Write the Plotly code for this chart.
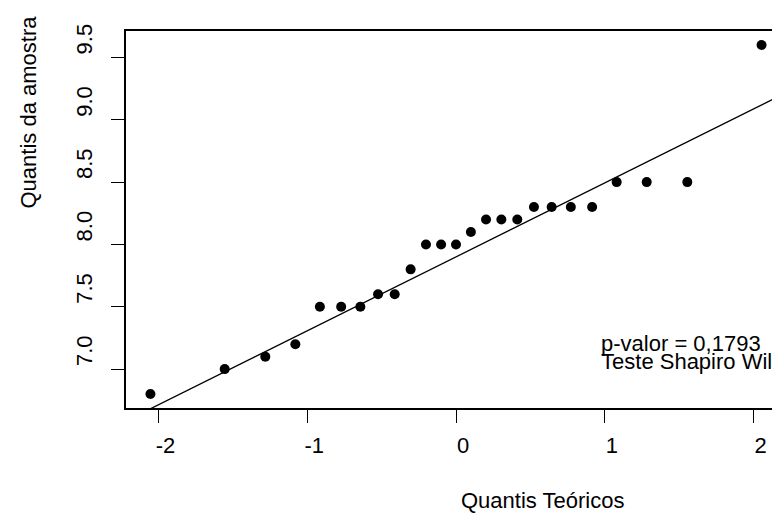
import numpy as np
import plotly.graph_objects as go

# Theoretical normal quantiles (x) and sorted sample values (y)
theoretical = [-2.054, -1.555, -1.282, -1.080, -0.915, -0.772, -0.643, -0.524, -0.412,
               -0.305, -0.202, -0.100, 0.000, 0.100, 0.202, 0.305, 0.412, 0.524,
               0.643, 0.772, 0.915, 1.080, 1.282, 1.555, 2.054]
sample = [6.8, 7.0, 7.1, 7.2, 7.5, 7.5, 7.5, 7.6, 7.6, 7.8, 8.0, 8.0, 8.0, 8.1,
          8.2, 8.2, 8.2, 8.3, 8.3, 8.3, 8.3, 8.5, 8.5, 8.5, 9.6]
x_ticks = [-2, -1, 0, 1, 2]
x_tick_labels = ["-2", "-1", "0", "1", "2"]
y_ticks = [7.0, 7.5, 8.0, 8.5, 9.0, 9.5]
y_tick_labels = ["7.0", "7.5", "8.0", "8.5", "9.0", "9.5"]
note_lines = ["p-valor = 0,1793", "Teste Shapiro Wilk"]
note_x = 0.975
note_y = [7.19, 7.045]
x_title = "Quantis Teóricos"
y_title = "Quantis da amostra"

FONT = "Arial, Liberation Sans, sans-serif"
FS = 22

x = np.array(theoretical)
y = np.array(sample)

# R-style qqline through the 1st and 3rd quartiles
q1, q3 = np.percentile(y, [25, 75])
z1, z3 = -0.6744898, 0.6744898
slope = (q3 - q1) / (z3 - z1)
intercept = q1 - slope * z1

def pad(lo, hi, f=0.04):
    d = (hi - lo) * f
    return [lo - d, hi + d]

xr = pad(x.min(), x.max())
yr = pad(y.min(), y.max())

fig = go.Figure()
lx = np.array([xr[0] - 1, xr[1] + 1])
fig.add_trace(go.Scatter(x=lx, y=intercept + slope * lx, mode="lines",
                         line=dict(color="black", width=1.3), hoverinfo="skip",
                         showlegend=False))
fig.add_trace(go.Scatter(x=x, y=y, mode="markers",
                         marker=dict(color="black", size=10), showlegend=False))
fig.add_trace(go.Scatter(x=[note_x, note_x], y=note_y, mode="text", text=note_lines,
                         textposition="middle right", cliponaxis=True,
                         textfont=dict(family=FONT, size=FS, color="black"),
                         showlegend=False, hoverinfo="skip"))

axis_common = dict(showgrid=False, zeroline=False, showline=True, mirror=True,
                   automargin=False,
                   linecolor="black", linewidth=1.5, ticks="outside", ticklen=13,
                   tickwidth=1.2, tickcolor="black",
                   tickfont=dict(family=FONT, size=FS, color="black"))
fig.update_xaxes(range=xr, tickmode="array", tickvals=x_ticks, ticktext=x_tick_labels,
                 ticklabelshift=7, ticklabelstandoff=4, **axis_common)
fig.update_yaxes(range=yr, tickmode="array", tickvals=y_ticks, ticktext=y_tick_labels,
                 tickangle=-90, ticklabelshift=-15, ticklabelstandoff=10, **axis_common)

fig.add_annotation(text=x_title, xref="paper", yref="paper", x=(451 - 118) / 660,
                   y=(400 - 493) / 377, xanchor="left", yanchor="middle",
                   showarrow=False, font=dict(family=FONT, size=FS, color="black"))
fig.add_annotation(text=y_title, xref="paper", yref="paper", x=(20 - 118) / 660,
                   y=(400 - 103.5) / 377, xanchor="center", yanchor="middle",
                   textangle=-90, showarrow=False,
                   font=dict(family=FONT, size=FS, color="black"))

fig.update_layout(width=780, height=513, margin=dict(l=118, r=2, t=23, b=113),
                  paper_bgcolor="white", plot_bgcolor="white",
                  font=dict(family=FONT, size=FS, color="black"))

fig.write_html("out.html")
